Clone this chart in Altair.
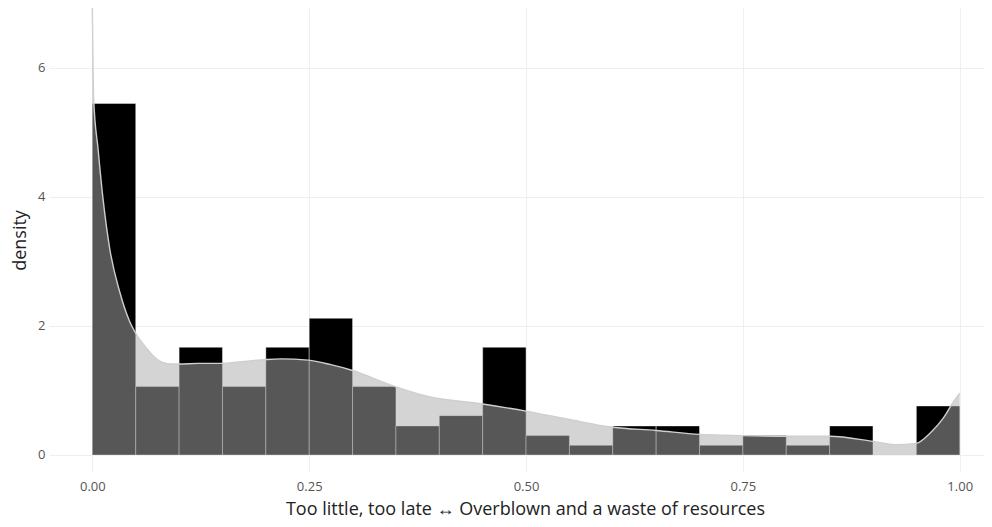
import altair as alt
import pandas as pd

# Histogram (density scale), bin width 0.05
bin_start = [0.00, 0.05, 0.10, 0.15, 0.20, 0.25, 0.30, 0.35, 0.40, 0.45,
             0.50, 0.55, 0.60, 0.65, 0.70, 0.75, 0.80, 0.85, 0.90, 0.95]
bin_density = [5.45, 1.06, 1.67, 1.06, 1.67, 2.12, 1.06, 0.45, 0.61, 1.67,
               0.30, 0.15, 0.45, 0.45, 0.15, 0.30, 0.15, 0.45, 0.0, 0.76]

# Kernel density curve
kde_x = [0.0, 0.0015, 0.0066, 0.0123, 0.020, 0.0315, 0.043, 0.049, 0.061, 0.076,
         0.09, 0.10, 0.122, 0.148, 0.175, 0.20, 0.217, 0.249, 0.275, 0.30,
         0.345, 0.386, 0.45, 0.50, 0.55, 0.60, 0.65, 0.70, 0.75, 0.80,
         0.85, 0.90, 0.925, 0.95, 0.966, 0.981, 0.993, 1.0]
kde_y = [6.93, 5.52, 4.74, 3.97, 3.20, 2.53, 2.07, 1.91, 1.68, 1.47,
         1.41, 1.41, 1.42, 1.42, 1.45, 1.48, 1.49, 1.47, 1.40, 1.31,
         1.08, 0.91, 0.79, 0.68, 0.55, 0.43, 0.38, 0.32, 0.30, 0.29,
         0.29, 0.21, 0.16, 0.18, 0.34, 0.57, 0.83, 0.96]

x_ticks = [0.0, 0.25, 0.5, 0.75, 1.0]
y_ticks = [0, 2, 4, 6]

hist = pd.DataFrame({
    "start": bin_start,
    "end": [s + 0.05 for s in bin_start],
    "density": bin_density,
})
kde = pd.DataFrame({"x": kde_x, "y": kde_y})

FONT = "Open Sans"

x_scale = alt.Scale(domain=[-0.05, 1.028], nice=False, zero=False)
y_scale = alt.Scale(domain=[-0.264, 6.93], nice=False, zero=False)

x_axis = alt.Axis(
    values=x_ticks, format=".2f",
    title="Too little, too late \u2194 Overblown and a waste of resources",
    grid=True, gridColor="#efefef", domain=False, ticks=False,
    labelPadding=8, labelFontSize=13, labelColor="#555555", labelFont=FONT,
    titleFontSize=18, titleColor="#222222", titleFont=FONT, titleFontWeight="normal",
    titlePadding=7, titleX=476, titleAlign="center",
)
y_axis = alt.Axis(
    values=y_ticks, format="d", title="density",
    grid=True, gridColor="#efefef", domain=False, ticks=False,
    labelPadding=4, labelFontSize=13, labelColor="#555555", labelFont=FONT,
    titleFontSize=18, titleColor="#222222", titleFont=FONT, titleFontWeight="normal",
    titlePadding=8,
)

bars = alt.Chart(hist).mark_bar(
    color="black", stroke="#ffffff", strokeWidth=0.6, strokeOpacity=0.7
).encode(
    x=alt.X("start:Q", scale=x_scale, axis=x_axis),
    x2="end:Q",
    y=alt.Y("density:Q", scale=y_scale, axis=y_axis),
    y2=alt.datum(0),
)

area = alt.Chart(kde).mark_area(
    color="#aaaaaa", opacity=0.51, interpolate="monotone", clip=True
).encode(
    x=alt.X("x:Q", scale=x_scale),
    y=alt.Y("y:Q", scale=y_scale),
    y2=alt.datum(0),
)

line = alt.Chart(kde).mark_line(
    color="#cfcfcf", strokeWidth=1.4, interpolate="monotone", clip=True
).encode(
    x=alt.X("x:Q", scale=x_scale),
    y=alt.Y("y:Q", scale=y_scale),
)

chart = alt.layer(bars, area, line).properties(
    width=935, height=464,
    autosize=alt.AutoSizeParams(type="none"),
    padding={"left": 41, "top": 0, "right": 0, "bottom": 47},
).configure_view(stroke=None)

chart.save("out.html", embed_options={"renderer": "svg", "actions": False})
